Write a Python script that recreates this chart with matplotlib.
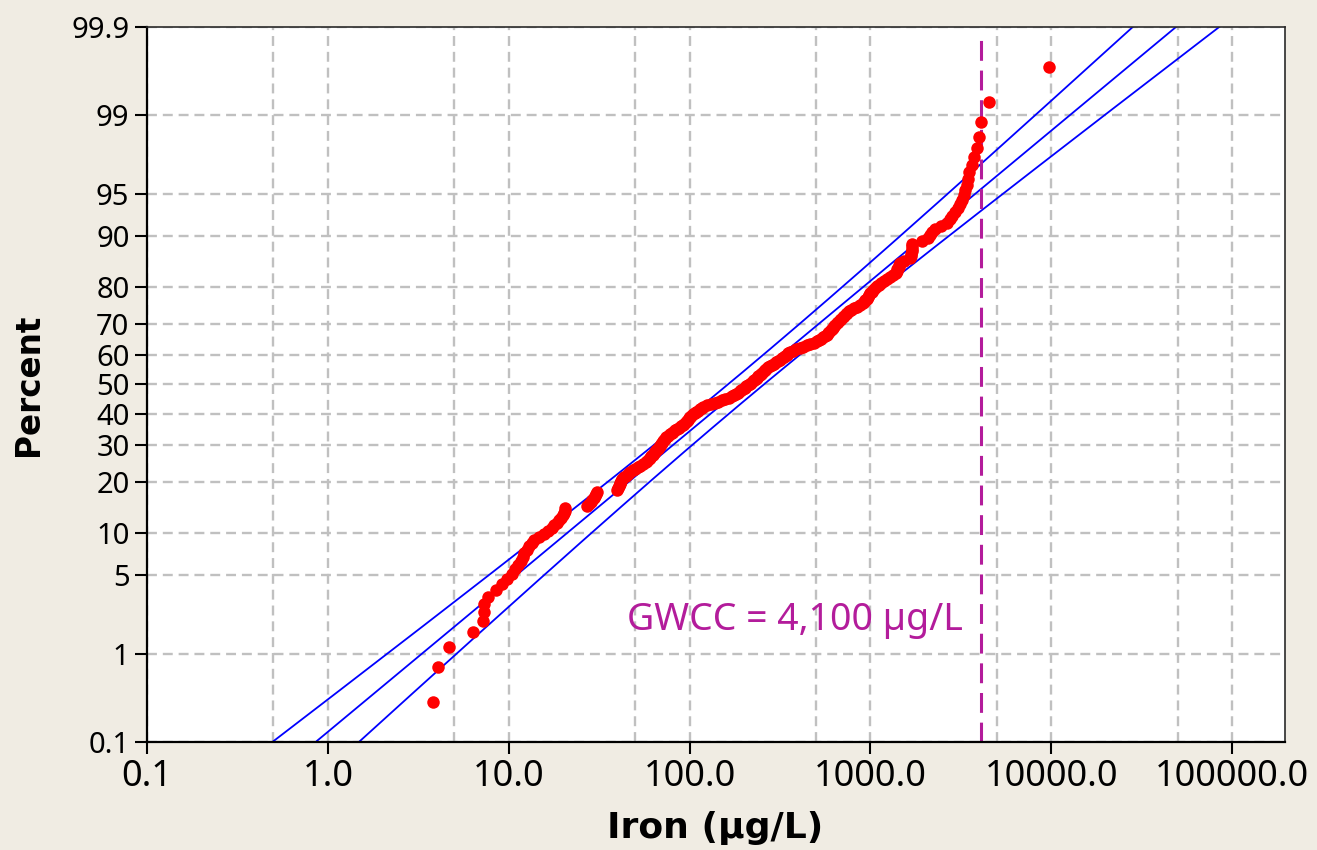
import numpy as np
import matplotlib
matplotlib.use('Agg')
import matplotlib.pyplot as plt
from matplotlib.ticker import FixedLocator, NullLocator
from statistics import NormalDist

# ---- data (iron concentrations, µg/L, sorted) ----
iron_values = [
    3.82, 4.05, 4.69, 6.33, 7.24, 7.28, 7.3, 7.73, 8.46, 9.14,
    9.76, 10.4, 10.9, 11.3, 11.7, 12, 12.2, 12.6, 13, 13.4,
    13.8, 14.7, 15.7, 16.5, 17.3, 17.9, 18.4, 19, 19.5, 20,
    20.2, 20.4, 20.6, 27.1, 27.8, 28.4, 29, 29.7, 30.1, 30.4,
    30.7, 39.6, 40, 40.5, 41, 41.4, 41.9, 42.3, 43.5, 44.7,
    45.9, 47.1, 48.4, 49.9, 51.7, 53.5, 55.3, 57.2, 58.5, 59.5,
    60.5, 61.5, 62.5, 63.6, 64.6, 65.6, 66.6, 67.5, 68.4, 69.3,
    70.2, 71.1, 72.1, 73, 74.4, 76.1, 77.8, 79.6, 81.3, 83.5,
    85.7, 87.9, 90.2, 92.5, 93.7, 95, 96.3, 97.6, 99, 100,
    102, 105, 107, 109, 112, 114, 117, 119, 125, 131,
    138, 144, 151, 158, 165, 172, 177, 181, 185, 189,
    193, 198, 202, 206, 210, 215, 219, 223, 228, 232,
    236, 240, 244, 248, 253, 257, 261, 266, 272, 279,
    287, 294, 302, 310, 318, 324, 331, 337, 344, 351,
    358, 372, 389, 407, 426, 446, 466, 488, 509, 522,
    535, 550, 564, 577, 585, 593, 602, 610, 619, 629,
    641, 652, 665, 677, 690, 703, 717, 730, 745, 759,
    777, 808, 841, 875, 911, 926, 939, 952, 966, 980,
    994, 1020, 1040, 1060, 1090, 1110, 1140, 1190, 1240, 1290,
    1340, 1390, 1400, 1410, 1430, 1440, 1450, 1540, 1660, 1680,
    1680, 1690, 1690, 1700, 1700, 1940, 2080, 2130, 2190, 2270,
    2460, 2660, 2740, 2840, 2940, 3040, 3120, 3210, 3280, 3340,
    3400, 3460, 3530, 3630, 3750, 3880, 3960, 4080, 4520, 9690,
]
# fitted lognormal (log10 scale)
fit_mean_log10 = 2.311
fit_sigma_log10 = 0.7696
gwcc = 4100
gwcc_label = 'GWCC = 4,100 µg/L'

y_ticks = [0.1, 1, 5, 10, 20, 30, 40, 50, 60, 70, 80, 90, 95, 99, 99.9]
y_tick_labels = ['0.1', '1', '5', '10', '20', '30', '40', '50', '60', '70',
                 '80', '90', '95', '99', '99.9']
x_ticks = [0.1, 1, 10, 100, 1000, 10000, 100000]
x_tick_labels = ['0.1', '1.0', '10.0', '100.0', '1000.0', '10000.0', '100000.0']
x_grid_minor = [0.5, 5, 50, 500, 5000, 50000]
x_label = 'Iron (µg/L)'
y_label = 'Percent'

# ---- setup ----
nd = NormalDist()
vals = np.sort(np.array(iron_values, dtype=float))
n = len(vals)
pct = (np.arange(1, n + 1) - 0.3) / (n + 0.4) * 100  # median ranks

fig = plt.figure(figsize=(13.17, 8.5), dpi=100, facecolor='#F0ECE3')
ax = fig.add_axes([0.1116, 0.1271, 0.8641, 0.8411])
ax.set_facecolor('white')

_ppf = np.vectorize(lambda q: nd.inv_cdf(q / 100), otypes=[float])
_cdf = np.vectorize(lambda t: nd.cdf(t) * 100, otypes=[float])


def fwd(p):
    p = np.clip(np.asarray(p, float), 1e-6, 100 - 1e-6)
    return _ppf(p)


def inv(z):
    return _cdf(np.asarray(z, float))


ax.set_xscale('log')
ax.set_yscale('function', functions=(fwd, inv))
ax.set_xlim(0.1, 196000)
ax.set_ylim(0.1, 99.9)

# fitted line with 95% confidence bands
zz = np.linspace(-3.4, 3.4, 300)
pz = _cdf(zz)
hw = 1.96 * fit_sigma_log10 * np.sqrt(1 / n + zz ** 2 / (2 * n))
for off in (-hw, 0 * hw, hw):
    ax.plot(10 ** (fit_mean_log10 + fit_sigma_log10 * zz + off), pz,
            color='#0000FF', lw=1.3, zorder=2)

ax.plot(vals, pct, 'o', color='#FF0000', ms=9, mec='none', zorder=3)
ax.axvline(gwcc, ymin=0, ymax=0.989, color='#B31C9B', lw=2.2,
           dashes=(6.5, 3.2), zorder=2.5)
ax.text(3250, 2.1, gwcc_label, color='#B31C9B', fontsize=27,
        family='Noto Sans', ha='right', va='center')

ax.set_yticks(y_ticks)
ax.set_yticklabels(y_tick_labels)
ax.yaxis.set_minor_locator(NullLocator())
ax.set_xticks(x_ticks)
ax.set_xticklabels(x_tick_labels)
ax.xaxis.set_minor_locator(FixedLocator(x_grid_minor))
ax.tick_params(axis='x', which='minor', length=0, labelbottom=False)
ax.tick_params(axis='both', which='major', direction='out', length=8.6,
               width=1.5, color='black', pad=4)
ax.tick_params(axis='x', labelsize=26)
ax.tick_params(axis='y', labelsize=21)
for lab in ax.get_xticklabels() + ax.get_yticklabels():
    lab.set_family('Noto Sans')

ax.grid(True, axis='x', which='both', color='#C0C0C0', lw=1.7, dashes=(4.2, 2.5))
ax.grid(True, axis='y', which='major', color='#C0C0C0', lw=1.7, dashes=(4.2, 2.5))
ax.set_axisbelow(True)
for k, s in ax.spines.items():
    if k in ('left', 'bottom'):
        s.set_color('black'); s.set_linewidth(1.6)
    else:
        s.set_color('#2A2A2A'); s.set_linewidth(1.2)

ax.set_xlabel(x_label, fontsize=26, fontweight='bold')
ax.set_ylabel(y_label, fontsize=23.5, fontweight='bold')
ax.xaxis.set_label_coords(0.499, -0.1203)
ax.xaxis.label.set_va('center')
ax.yaxis.set_label_coords(-0.1045, 0.5)
ax.yaxis.label.set_va('center')

fig.savefig('out.png', dpi=100, facecolor=fig.get_facecolor())
